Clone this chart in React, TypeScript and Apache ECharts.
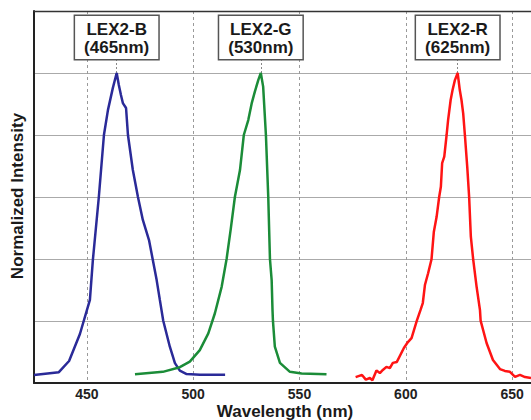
import React, { useEffect, useRef } from "react";
import * as echarts from "echarts";

const xTicks = [450, 500, 550, 600, 650];
const xMin = 425.1;
const xMax = 658.9;

const seriesNames = ["LEX2-B", "LEX2-G", "LEX2-R"];
const labelTexts = ["LEX2-B\n(465nm)", "LEX2-G\n(530nm)", "LEX2-R\n(625nm)"];
const peakWavelengths = [464.0, 531.8, 624.4];
const seriesColors = ["#2a2a98", "#1b8c38", "#ff1414"];

const blueSpectrum: [number, number][] = [
  [425.1, 0.026], [436.8, 0.035], [441.6, 0.071], [446.7, 0.158], [451.4, 0.268],
  [452.8, 0.397], [455.6, 0.6], [458.0, 0.8], [459.9, 0.881], [462.2, 0.952],
  [464.0, 1.0], [465.0, 0.961], [466.0, 0.929], [466.9, 0.903], [468.4, 0.887],
  [469.3, 0.8], [471.6, 0.687], [474.0, 0.6], [476.3, 0.526], [479.2, 0.461],
  [481.0, 0.397], [482.8, 0.332], [484.3, 0.268], [485.9, 0.201], [489.0, 0.117],
  [491.4, 0.064], [493.7, 0.04], [496.9, 0.029], [503.2, 0.027], [515.0, 0.027],
];

const greenSpectrum: [number, number][] = [
  [472.6, 0.028], [485.7, 0.036], [493.7, 0.051], [498.4, 0.069], [503.1, 0.106],
  [507.1, 0.16], [510.2, 0.225], [513.4, 0.311], [515.7, 0.4], [517.6, 0.494],
  [519.6, 0.6], [522.0, 0.687], [523.8, 0.8], [525.9, 0.848], [527.5, 0.902],
  [529.0, 0.94], [530.6, 0.977], [531.8, 1.0], [532.9, 0.956], [534.2, 0.8],
  [535.3, 0.6], [536.1, 0.4], [536.9, 0.332], [537.3, 0.235], [537.5, 0.201],
  [538.4, 0.117], [540.8, 0.065], [545.5, 0.036], [551.0, 0.031], [562.7, 0.028],
];

const redSpectrum: [number, number][] = [
  [576.4, 0.019], [579.4, 0.026], [581.2, 0.011], [583.1, 0.016], [584.3, 0.009],
  [586.2, 0.04], [587.8, 0.032], [589.2, 0.042], [590.9, 0.052], [592.5, 0.048],
  [593.9, 0.065], [595.8, 0.068], [597.2, 0.087], [599.1, 0.113], [601.0, 0.132],
  [602.7, 0.145], [605.2, 0.201], [606.9, 0.235], [608.0, 0.258], [609.0, 0.316],
  [610.5, 0.354], [612.1, 0.399], [613.2, 0.488], [614.5, 0.536], [615.7, 0.6],
  [616.5, 0.633], [617.1, 0.709], [618.1, 0.73], [619.2, 0.8], [619.9, 0.848],
  [621.1, 0.913], [622.0, 0.945], [623.1, 0.977], [624.4, 1.0], [625.4, 0.945],
  [626.2, 0.913], [627.0, 0.87], [627.8, 0.8], [628.9, 0.698], [629.8, 0.6],
  [630.6, 0.472], [631.7, 0.399], [633.3, 0.311], [634.9, 0.235], [635.2, 0.201],
  [638.0, 0.129], [641.0, 0.074], [644.3, 0.045], [646.6, 0.039], [649.0, 0.036],
  [651.4, 0.02], [653.7, 0.026], [656.1, 0.019], [658.9, 0.016],
];

const spectra = [blueSpectrum, greenSpectrum, redSpectrum];

const FONT = "'Liberation Sans', Arial, sans-serif";

export default function App() {
  const ref = useRef<HTMLDivElement>(null);
  useEffect(() => {
    if (!ref.current) return;
    const chart = echarts.init(ref.current, undefined, { renderer: "svg" });
    const series = spectra.map((data, i) => ({
      type: "line",
      name: seriesNames[i],
      data,
      showSymbol: false,
      smooth: false,
      lineStyle: { color: seriesColors[i], width: 2.5 },
      itemStyle: { color: seriesColors[i] },
      z: 5,
      markPoint: {
        symbol: "rect",
        symbolSize: 0,
        silent: true,
        data: [{ coord: [peakWavelengths[i], 1.0] }],
        label: {
          show: true,
          position: "top",
          distance: 14,
          formatter: labelTexts[i],
          color: "#1a1a1a",
          fontWeight: "bold",
          fontSize: 17,
          lineHeight: 18,
          fontFamily: FONT,
          backgroundColor: "#ffffff",
          borderColor: "#555555",
          borderWidth: 1.5,
          padding: [4, 9, 3, 9],
        },
      },
      markLine: {
        symbol: "none",
        silent: true,
        label: { show: false },
        lineStyle: { type: [2, 2], color: "#888", width: 1 },
        data: [[{ coord: [peakWavelengths[i], 1.0] }, { coord: [peakWavelengths[i], 1.045] }]],
      },
    }));

    chart.setOption({
      animation: false,
      backgroundColor: "#ffffff",
      grid: { left: 34, right: 0, top: 11, bottom: 37, containLabel: false },
      xAxis: [
        {
          type: "value",
          min: xMin,
          max: xMax,
          position: "bottom",
          axisLine: { show: true, lineStyle: { color: "#222", width: 2 } },
          axisTick: { show: false, customValues: xTicks },
          axisLabel: {
            customValues: xTicks,
            color: "#222",
            fontWeight: "bold",
            fontSize: 14,
            fontFamily: FONT,
            margin: 4,
          },
          splitLine: { show: true, lineStyle: { type: [3, 3], color: "#9a9a9a", width: 1 } },
        },
        {
          type: "value",
          min: xMin,
          max: xMax,
          position: "top",
          axisLine: { show: true, lineStyle: { color: "#333", width: 1.3 } },
          axisTick: { show: false },
          axisLabel: { show: false },
          splitLine: { show: false },
        },
      ],
      yAxis: {
        type: "value",
        min: 0,
        max: 1.2,
        interval: 0.2,
        axisLine: { show: true, lineStyle: { color: "#222", width: 2 } },
        axisTick: { show: false },
        axisLabel: { show: false },
        splitLine: { show: true, lineStyle: { color: "#aaaaaa", width: 1 } },
      },
      graphic: [
        {
          type: "text",
          x: 17.5,
          y: 196,
          rotation: Math.PI / 2,
          style: {
            text: "Normalized Intensity",
            fill: "#1a1a1a",
            font: `bold 17px ${FONT}`,
            align: "center",
            verticalAlign: "middle",
          },
        },
        {
          type: "text",
          x: 285,
          y: 411,
          style: {
            text: "Wavelength (nm)",
            fill: "#1a1a1a",
            font: `bold 17px ${FONT}`,
            align: "center",
            verticalAlign: "middle",
          },
        },
      ],
      series,
    });
    return () => chart.dispose();
  }, []);
  return <div ref={ref} style={{ width: 531, height: 420, position: "absolute", left: 0, top: 0 }} />;
}
